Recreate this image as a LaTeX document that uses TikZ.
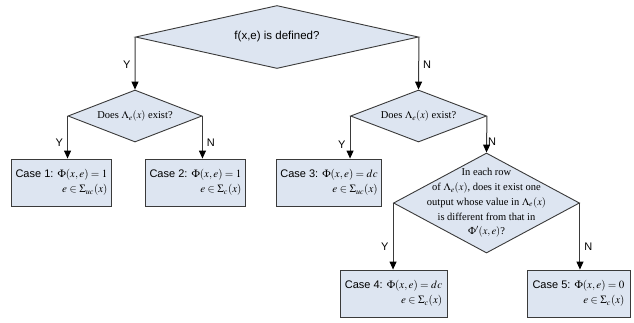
\documentclass[tikz,border=0pt]{standalone}
\usepackage{mathptmx}
\usepackage[no-math]{fontspec}
\setmainfont{Liberation Serif}
\newfontfamily\arialfont{Liberation Sans}
\usepackage{tikz}
\usetikzlibrary{arrows.meta,shapes.geometric}

\definecolor{boxfill}{HTML}{DDE5F1}
\definecolor{edge}{HTML}{3A3A3A}

\begin{document}
\begin{tikzpicture}[x=1pt, y=-1pt,
  dec/.style={diamond, draw=edge, fill=boxfill, line width=0.9pt, inner sep=0pt, align=center,
    font=\fontsize{10.5}{14.7}\selectfont},
  cs/.style={draw=edge, fill=boxfill, line width=0.9pt, minimum height=47pt, inner xsep=4pt,
    align=right, font=\arialfont\fontsize{11}{15}\selectfont},
  arr/.style={-{Triangle[length=8pt,width=7pt,color=black]}, line width=1pt, draw=edge},
  lab/.style={font=\arialfont\fontsize{11}{12}\selectfont, inner sep=4pt}
]
\useasboundingbox (0,0) rectangle (634,322);

% questions
\node[dec, aspect=4.5, minimum width=283pt, minimum height=63pt, font=\arialfont\fontsize{11.5}{13}\selectfont]
  (def) at (277,37) {f(x,e) is defined?};
\node[dec, aspect=2.6, minimum width=134pt, minimum height=52pt] (exl) at (135,116) {Does $\Lambda_e(x)$ exist?};
\node[dec, aspect=2.6, minimum width=136pt, minimum height=52pt] (exr) at (418.5,116) {Does $\Lambda_e(x)$ exist?};
\node[dec, aspect=1.86, inner sep=-20pt, minimum width=186pt, minimum height=100pt] (row) at (486.5,203)
  {In each row\\ of $\Lambda_e(x)$, does it exist one\\ output whose value in $\Lambda_e(x)$\\ is different from that in\\ $\Phi'(x,e)$?};

% cases
\node[cs, minimum width=93pt] (c1) at (61.5,182.5) {Case 1: $\Phi(x,e)=1$\\ $e\in\Sigma_{uc}(x)$};
\node[cs, minimum width=95pt] (c2) at (195.5,182.5) {Case 2: $\Phi(x,e)=1$\\ $e\in\Sigma_{c}(x)$};
\node[cs, minimum width=104pt] (c3) at (329,182.5) {Case 3: $\Phi(x,e)=dc$\\ $e\in\Sigma_{uc}(x)$};
\node[cs, minimum width=107pt] (c4) at (393.5,293.5) {Case 4: $\Phi(x,e)=dc$\\ $e\in\Sigma_{c}(x)$};
\node[cs, minimum width=103pt] (c5) at (578.5,293.5) {Case 5: $\Phi(x,e)=0$\\ $e\in\Sigma_{c}(x)$};

% branches
\draw[arr] (def.west) -- node[lab, left, pos=0.53] {Y} (exl.north);
\draw[arr] (def.east) -- node[lab, right, pos=0.53] {N} (exr.north);
\draw[arr] (exl.west) -- node[lab, left, pos=0.63] {Y} (exl.west |- c1.north);
\draw[arr] (exl.east) -- node[lab, right, pos=0.63] {N} (exl.east |- c2.north);
\draw[arr] (exr.west) -- node[lab, left, pos=0.67] {Y} (exr.west |- c3.north);
\draw[arr] (exr.east) -- node[lab, right, pos=0.7, inner sep=1pt] {N} (row.north);
\draw[arr] (row.west) -- node[lab, left, pos=0.66] {Y} (row.west |- c4.north);
\draw[arr] (row.east) -- node[lab, right, pos=0.66] {N} (row.east |- c5.north);
\end{tikzpicture}
\end{document}
